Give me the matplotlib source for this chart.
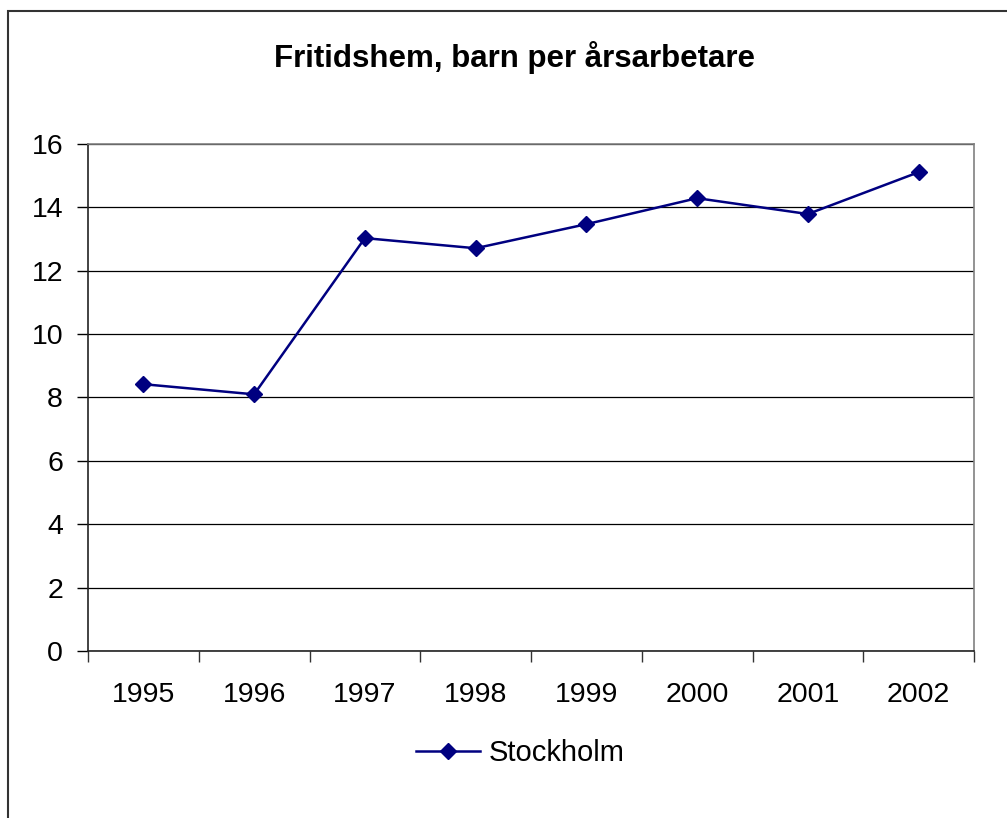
import matplotlib
matplotlib.use("Agg")
import matplotlib.pyplot as plt
from matplotlib.patches import Rectangle
from matplotlib.ticker import FixedLocator, NullFormatter

plt.rcParams['font.family'] = ['Liberation Sans', 'DejaVu Sans']

years = ["1995", "1996", "1997", "1998", "1999", "2000", "2001", "2002"]
stockholm = [8.42, 8.1, 13.03, 12.71, 13.47, 14.29, 13.79, 15.11]
yticks = [0, 2, 4, 6, 8, 10, 12, 14, 16]

fig = plt.figure(figsize=(10.07, 8.18), dpi=100)

# outer chart border (bottom edge is cut off in the reference)
fig.patches.append(Rectangle((8 / 1007, -0.05), 1.2, (818 - 11) / 818 + 0.05,
                             transform=fig.transFigure, fill=False,
                             edgecolor="#333333", linewidth=1.5))

ax = fig.add_axes([88 / 1007, (818 - 651) / 818, (974 - 88) / 1007, (651 - 144) / 818])

x = list(range(len(years)))
ax.plot(x, stockholm, color="#000080", linewidth=1.8, marker="D", markersize=8.5,
        label="Stockholm", zorder=3)

ax.set_ylim(0, 16)
ax.set_xlim(-0.5, len(years) - 0.5)
ax.set_yticks(yticks)
ax.set_yticklabels([str(v) for v in yticks])
ax.yaxis.grid(True, color="black", linewidth=0.9)
ax.set_axisbelow(True)

# category ticks between years, labels centred on each year
ax.xaxis.set_major_locator(FixedLocator([i - 0.5 for i in range(len(years) + 1)]))
ax.xaxis.set_major_formatter(NullFormatter())
ax.xaxis.set_minor_locator(FixedLocator(x))
ax.set_xticklabels(years, minor=True)
ax.tick_params(axis="x", which="minor", length=0, labelsize=20.5, pad=22)
ax.tick_params(axis="x", which="major", length=8, width=1, color="#333333")
ax.tick_params(axis="y", length=8, width=1, labelsize=20.5, pad=10)

for side in ["top", "right"]:
    ax.spines[side].set_color("#808080")
    ax.spines[side].set_linewidth(1.2)
for side in ["left", "bottom"]:
    ax.spines[side].set_color("#222222")
    ax.spines[side].set_linewidth(1.2)

fig.text(514 / 1007, 1 - 57 / 818, "Fritidshem, barn per årsarbetare",
         ha="center", va="center", fontsize=22.5, fontweight="bold")

fig.legend(loc="center", bbox_to_anchor=(520 / 1007, 1 - 753 / 818), frameon=False,
           fontsize=21, handlelength=2.2, handletextpad=0.3, borderpad=0)

fig.savefig("out.png", dpi=100)
